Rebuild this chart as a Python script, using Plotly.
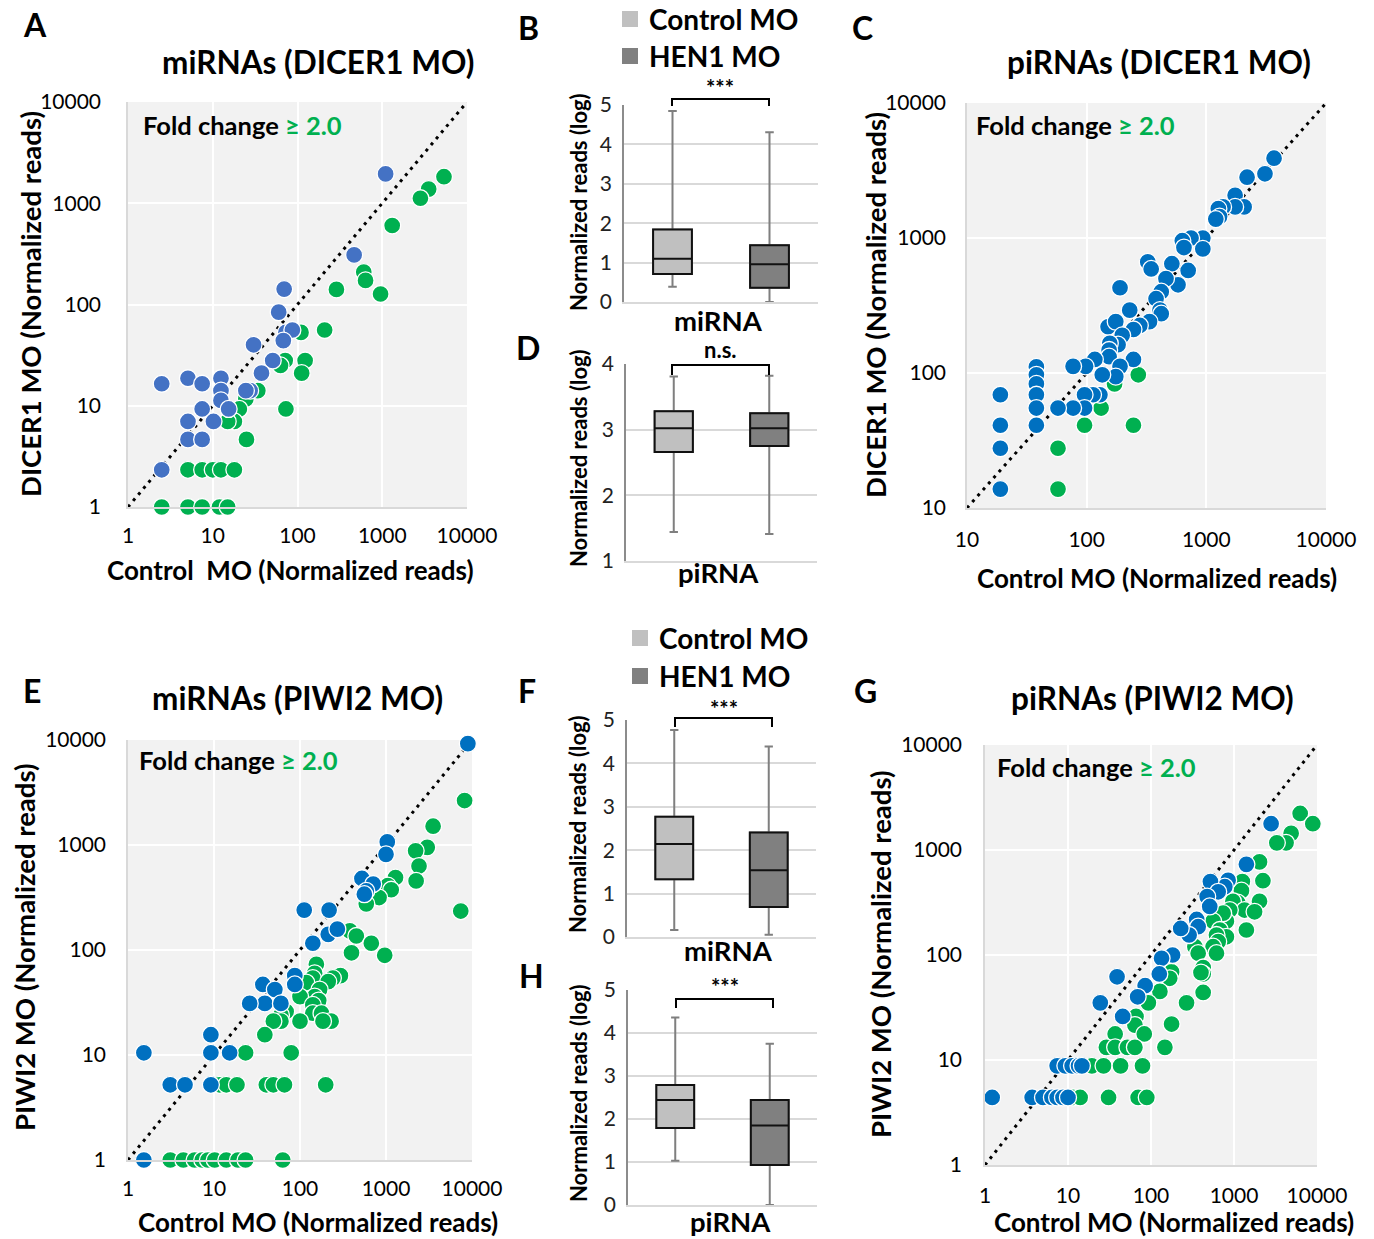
import plotly.graph_objects as go

W, H = 1374, 1239
FONT = "Lato"
BLUE_A = "#4472C4"
BLUE = "#0070C0"
GREEN = "#00B050"
LIGHT = "#C0C0C0"
DARK = "#808080"

# ---------------- data ----------------
log_ticks = [1, 10, 100, 1000, 10000]
log_ticks_C = [10, 100, 1000, 10000]

# Panel A: miRNAs (DICER1 MO)  (control, dicer1)
A_blue = [(1096, 1950), (466, 309), (69.6, 142), (60, 84), (73, 53), (87, 56), (68, 44),
          (30.3, 40), (51, 28), (37.6, 21), (27.6, 14.1), (24.6, 14.1), (2.5, 16.5),
          (5.1, 18.7), (7.5, 16.5), (12.5, 18.7), (12.5, 14.1), (12.5, 11.3), (15.4, 9.3),
          (7.5, 9.3), (10.2, 7), (5.1, 7), (5.1, 4.65), (7.5, 4.65), (2.5, 2.33)]
A_green = [(5350, 1830), (3530, 1380), (2820, 1120), (1310, 603), (605, 209), (635, 173),
           (955, 127), (288, 141), (209, 56), (110, 53), (123, 28), (112, 21), (71.6, 28),
           (63, 25), (73, 9.3), (34, 14.1), (24.6, 11.7), (20.6, 9.3), (18, 7), (15, 7),
           (25, 4.65), (5.1, 2.33), (7.5, 2.33), (10, 2.33), (12.5, 2.33), (18, 2.33),
           (2.5, 1), (5.1, 1), (7.5, 1), (12, 1), (15, 1)]

# Panel C: piRNAs (DICER1 MO)
C_blue = [(3680, 3900), (3090, 2990), (2190, 2820), (1740, 2070), (2070, 1700), (1740, 1700),
          (1380, 1700), (1260, 1650), (1290, 1440), (1200, 1380), (935, 1000), (745, 1000),
          (630, 955), (650, 850), (935, 830), (705, 575), (515, 645), (580, 450), (460, 500),
          (420, 400), (380, 355), (410, 292), (420, 275), (324, 665), (346, 590), (335, 240),
          (278, 225), (229, 292), (246, 210), (190, 428), (151, 220), (175, 240), (198, 190),
          (183, 162), (156, 166), (154, 148), (154, 132), (246, 126), (190, 112), (175, 94),
          (135, 97), (117, 126), (98, 112), (77, 112), (129, 69), (113, 69), (96, 69),
          (96, 55), (77, 55), (57.6, 55), (38, 111), (38, 97), (38, 83), (38, 69), (38, 55),
          (38, 41), (19, 69), (19, 41), (19, 27.7), (19, 13.8)]
C_green = [(270, 97), (171, 83), (132, 55), (96, 41), (246, 41), (57.6, 27.7), (57.6, 13.8)]

# Panel E: miRNAs (PIWI2 MO)
E_blue = [(8950, 9230), (1035, 1070), (1000, 815), (525, 480), (710, 425), (590, 365),
          (560, 340), (112, 240), (218, 240), (213, 141), (272, 158), (141, 116), (87, 57),
          (87, 47), (37, 47), (51, 42), (39, 31), (60, 31), (26, 31), (9.2, 15.6), (9.2, 10.5),
          (15.2, 10.5), (1.53, 10.5), (3.1, 5.2), (4.6, 5.2), (9.2, 5.2), (1.53, 1)]
E_green = [(8200, 2650), (3530, 1510), (3020, 950), (2210, 880), (2420, 630), (2240, 455),
           (1290, 490), (1050, 410), (1150, 375), (830, 316), (590, 275), (7400, 235),
           (380, 152), (452, 136), (675, 116), (966, 89), (397, 94), (155, 73), (148, 60),
           (141, 54), (295, 57), (241, 54), (213, 50), (118, 49), (169, 42), (148, 36),
           (100, 36), (165, 33), (141, 30), (141, 25), (178, 25), (69, 26), (60, 24),
           (230, 21), (185, 21), (100, 21), (60, 21), (49, 21), (39, 15.6), (23.3, 10.5),
           (79, 10.5), (11.6, 5.2), (13.9, 5.2), (18.5, 5.2), (40.6, 5.2), (49, 5.2),
           (66, 5.2), (199, 5.2), (3.1, 1), (4.4, 1), (5.95, 1), (7.3, 1), (8.5, 1),
           (10.2, 1), (13.9, 1), (19, 1), (23.3, 1), (63, 1)]

# Panel G: piRNAs (PIWI2 MO)
G_blue = [(2800, 1780), (1410, 730), (850, 515), (775, 447), (520, 500), (645, 400),
          (475, 360), (510, 290), (355, 218), (370, 186), (288, 155), (228, 179), (182, 100),
          (134, 93), (126, 66), (85, 51), (69, 40), (39, 62), (24.5, 35), (45.6, 26),
          (7.4, 8.8), (9.3, 8.8), (11.2, 8.8), (13.4, 8.8), (14.7, 8.8), (1.22, 4.4),
          (3.7, 4.4), (5.0, 4.4), (6.4, 4.4), (7.4, 4.4), (8.7, 4.4), (10, 4.4)]
G_green = [(6270, 2230), (8900, 1780), (4880, 1440), (4240, 1170), (3280, 1170), (2030, 770),
           (2230, 510), (2030, 325), (1260, 500), (1230, 410), (1110, 315), (970, 325),
           (1340, 268), (1770, 258), (1410, 173), (890, 268), (810, 210), (740, 250),
           (560, 210), (675, 173), (810, 149), (615, 155), (645, 134), (560, 120), (615, 104),
           (338, 120), (370, 104), (425, 76), (425, 66), (400, 68), (425, 44), (268, 35),
           (177, 22), (147, 13.2), (177, 69), (168, 60), (128, 45), (93, 35), (66, 26),
           (64, 21.5), (83, 17.7), (37, 17.7), (29, 13.2), (37, 13.2), (52, 13.2), (64, 13.2),
           (19.4, 8.8), (26.8, 8.8), (43, 8.8), (79, 8.8), (11.5, 4.4), (14, 4.4),
           (30.8, 4.4), (70, 4.4), (89, 4.4)]

# Box plots: [lower whisker, Q1, median, Q3, upper whisker] (log normalized reads)
box_groups = ["Control MO", "HEN1 MO"]
B_control = [0.39, 0.71, 1.10, 1.84, 4.85]
B_hen1 = [0.0, 0.36, 0.96, 1.44, 4.31]
D_control = [1.44, 2.66, 3.02, 3.28, 3.81]
D_hen1 = [1.41, 2.75, 3.02, 3.25, 3.82]
F_control = [0.16, 1.33, 2.14, 2.77, 4.77]
F_hen1 = [0.05, 0.69, 1.54, 2.41, 4.39]
H_control = [1.03, 1.79, 2.44, 2.79, 4.36]
H_hen1 = [0.0, 0.93, 1.85, 2.44, 3.75]

# ---------------- helpers ----------------
def fx(p):
    return p / W


def fy(p):
    return 1 - p / H


fig = go.Figure()
layout = {}
annotations = []
shapes = []


def ann(text, px, py, size, xanchor="center", angle=0, color="black", bold=True):
    annotations.append(dict(
        text=("<b>%s</b>" % text) if bold else text, x=fx(px), y=fy(py),
        xref="paper", yref="paper", xanchor=xanchor, yanchor="middle",
        showarrow=False, textangle=angle,
        font=dict(family=FONT, size=size, color=color)))


def axname(i):
    return ("x", "y") if i == 1 else ("x%d" % i, "y%d" % i)


def scatter_panel(i, green, blue, bcol, ticks, xdom, ydom, xlen, ylen):
    xa, ya = axname(i)
    diag = [ticks[0], ticks[-1]]
    fig.add_trace(go.Scatter(x=diag, y=diag, mode="lines",
                             line=dict(color="black", width=3, dash="3px,5px"),
                             xaxis=xa, yaxis=ya, showlegend=False, hoverinfo="skip"))
    for pts, col in ((green, GREEN), (blue, bcol)):
        fig.add_trace(go.Scatter(x=[p[0] for p in pts], y=[p[1] for p in pts], mode="markers",
                                 marker=dict(size=17, color=col, line=dict(color="white", width=1.3)),
                                 xaxis=xa, yaxis=ya, showlegend=False, cliponaxis=False))
    r = [len(str(ticks[0])) - 1, len(str(ticks[-1])) - 1]
    common = dict(type="log", range=r, showgrid=True, gridcolor="white", gridwidth=2,
                  showline=True, linecolor="#d9d9d9", linewidth=1.5, zeroline=False,
                  tickvals=ticks, ticktext=[str(t) for t in ticks], ticks="outside",
                  tickcolor="rgba(0,0,0,0)", automargin=False,
                  tickfont=dict(family=FONT, size=21, color="black"))
    layout["xaxis" if i == 1 else "xaxis%d" % i] = dict(
        common, domain=[fx(xdom[0]), fx(xdom[1])], anchor=ya, ticklen=xlen)
    layout["yaxis" if i == 1 else "yaxis%d" % i] = dict(
        common, domain=[fy(ydom[1]), fy(ydom[0])], anchor=xa, ticklen=ylen)
    shapes.append(dict(type="rect", xref=xa + " domain", yref=ya + " domain",
                       x0=0, x1=1, y0=0, y1=1, fillcolor="#F2F2F2",
                       line=dict(width=0), layer="below"))


def box_panel(i, ctrl, hen, yr, xdom, ydom):
    xa, ya = axname(i)
    for pos, st, col in ((0.5, ctrl, LIGHT), (1.5, hen, DARK)):
        # whiskers (gray)
        fig.add_trace(go.Box(x=[pos], lowerfence=[st[0]], q1=[st[1]], median=[st[2]],
                             q3=[st[3]], upperfence=[st[4]], width=0.4, whiskerwidth=0.22,
                             fillcolor=col, line=dict(color="#7F7F7F", width=2),
                             boxpoints=False, xaxis=xa, yaxis=ya, showlegend=False,
                             name=box_groups[int(pos)]))
        # box (black outline)
        fig.add_trace(go.Box(x=[pos], lowerfence=[st[1]], q1=[st[1]], median=[st[2]],
                             q3=[st[3]], upperfence=[st[3]], width=0.4, whiskerwidth=0.0,
                             fillcolor=col, line=dict(color="#111111", width=2),
                             boxpoints=False, xaxis=xa, yaxis=ya, showlegend=False,
                             name=box_groups[int(pos)]))
    layout["xaxis%d" % i] = dict(domain=[fx(xdom[0]), fx(xdom[1])], range=[0, 2], anchor=ya,
                                 showticklabels=False, showgrid=False, zeroline=False,
                                 showline=True, linecolor="#d9d9d9", linewidth=1.5,
                                 automargin=False)
    layout["yaxis%d" % i] = dict(domain=[fy(ydom[1]), fy(ydom[0])], range=yr, anchor=xa,
                                 tickvals=list(range(yr[0], yr[1] + 1)), showgrid=True,
                                 gridcolor="#d9d9d9", gridwidth=1.5, zeroline=False,
                                 showline=True, linecolor="#8C8C8C", linewidth=1.5,
                                 ticks="outside", ticklen=6, tickcolor="rgba(0,0,0,0)",
                                 automargin=False,
                                 tickfont=dict(family=FONT, size=21, color="#222222"))


def bracket(x1, x2, ytop, ydrop, label, ylab):
    shapes.append(dict(type="path", xref="paper", yref="paper",
                       path="M %f,%f L %f,%f L %f,%f L %f,%f" % (
                           fx(x1), fy(ydrop), fx(x1), fy(ytop), fx(x2), fy(ytop), fx(x2), fy(ydrop)),
                       line=dict(color="black", width=2)))
    ann(label, (x1 + x2) / 2, ylab, 22)


def legend(xl, yc1, yc2):
    for yc, col, name in ((yc1, LIGHT, box_groups[0]), (yc2, DARK, box_groups[1])):
        shapes.append(dict(type="rect", xref="paper", yref="paper",
                           x0=fx(xl), x1=fx(xl + 16), y0=fy(yc + 8), y1=fy(yc - 8),
                           fillcolor=col, line=dict(width=0)))
        ann(name, xl + 25, yc, 28, xanchor="left")


# ---------------- panels ----------------
scatter_panel(1, A_green, A_blue, BLUE_A, log_ticks, (128, 467), (102, 507), 9, 21)
scatter_panel(2, C_green, C_blue, BLUE, log_ticks_C, (967, 1326), (103, 508), 12, 15)
scatter_panel(3, E_green, E_blue, BLUE, log_ticks, (128, 472), (740, 1160), 9, 16)
scatter_panel(4, G_green, G_blue, BLUE, log_ticks, (985, 1317), (745, 1165), 11, 17)

box_panel(5, B_control, B_hen1, [0, 5], (624, 818), (105, 302))
box_panel(6, D_control, D_hen1, [1, 4], (626, 817), (364, 561))
box_panel(7, F_control, F_hen1, [0, 5], (627, 816), (720, 937))
box_panel(8, H_control, H_hen1, [0, 5], (628, 817), (990, 1205))

# titles
ann("miRNAs (DICER1 MO)", 318, 62, 31.5)
ann("piRNAs (DICER1 MO)", 1159, 62, 31.5)
ann("miRNAs (PIWI2 MO)", 297, 698, 31.5)
ann("piRNAs (PIWI2 MO)", 1152, 698, 31.5)

# fold change labels
fc = "Fold change <span style='color:%s'>≥ 2.0</span>" % GREEN
ann(fc, 141, 125, 25.5, xanchor="left")
ann(fc, 974, 125, 25.5, xanchor="left")
ann(fc, 137, 760, 25.5, xanchor="left")
ann(fc, 995, 767, 25.5, xanchor="left")

# axis titles
ann("DICER1 MO (Normalized reads)", 30, 304, 27.5, angle=-90)
ann("Control&nbsp; MO (Normalized reads)", 290, 570, 26)
ann("DICER1 MO (Normalized reads)", 875, 305, 27.5, angle=-90)
ann("Control MO (Normalized reads)", 1157, 578, 26)
ann("PIWI2 MO (Normalized reads)", 24, 948, 27.5, angle=-90)
ann("Control MO (Normalized reads)", 318, 1222, 26)
ann("PIWI2 MO (Normalized reads)", 880, 955, 27.5, angle=-90)
ann("Control MO (Normalized reads)", 1174, 1222, 26)

for yc in (202, 458, 824, 1093):
    ann("Normalized reads (log)", 578, yc, 22, angle=-90)

ann("miRNA", 718, 320, 27.5)
ann("piRNA", 718, 573, 27.5)
ann("miRNA", 728, 950, 27.5)
ann("piRNA", 730, 1221, 27.5)

# significance brackets
bracket(672, 769, 99, 106, "***", 88)
bracket(672, 769, 365, 375, "n.s.", 349)
bracket(675, 772, 718, 727, "***", 708)
bracket(676, 773, 999, 1008, "***", 986)

legend(622, 19, 56)
legend(632, 638, 676)

# panel letters
for letter, px, py in (("A", 35, 25), ("B", 528, 27), ("C", 862, 27), ("D", 528, 347),
                       ("E", 32, 690), ("F", 527, 690), ("G", 866, 690), ("H", 531, 975)):
    ann(letter, px, py, 32)

fig.update_layout(width=W, height=H,
                  margin=dict(l=0, r=0, t=0, b=0, pad=0, autoexpand=False),
                  paper_bgcolor="white", plot_bgcolor="white", boxmode="overlay",
                  showlegend=False, annotations=annotations, shapes=shapes,
                  font=dict(family=FONT), **layout)

fig.write_html("out.html", config={"displayModeBar": False},
               post_script="document.body.style.margin='0';document.body.style.overflow='hidden';")
